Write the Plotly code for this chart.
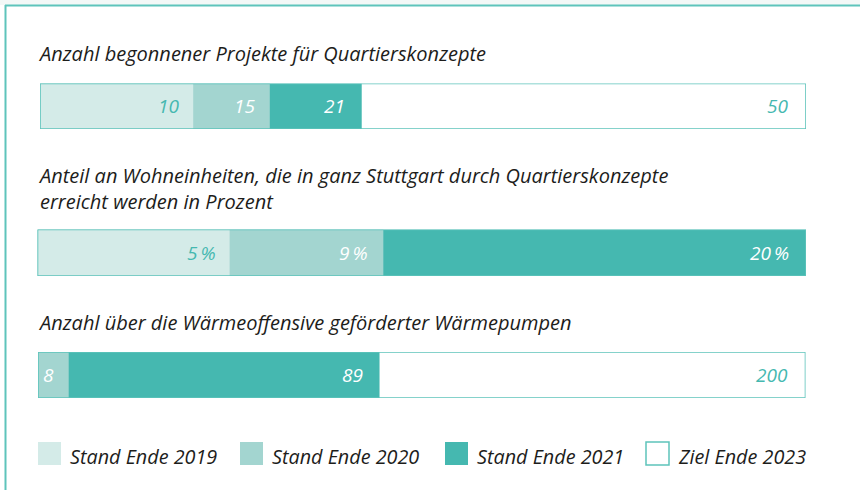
import plotly.graph_objects as go

# ---------------- data ----------------
titles = [
    "Anzahl begonnener Projekte für Quartierskonzepte",
    "Anteil an Wohneinheiten, die in ganz Stuttgart durch Quartierskonzepte<br>erreicht werden in Prozent",
    "Anzahl über die Wärmeoffensive geförderter Wärmepumpen",
]
series_names = ["Stand Ende 2019", "Stand Ende 2020", "Stand Ende 2021", "Ziel Ende 2023"]
stand_2019 = [10, 5, None]
stand_2020 = [15, 9, 8]
stand_2021 = [21, 20, 89]
ziel_2023 = [50, None, 200]
scale_max = [50, 20, 200]
value_suffix = ["", "\u2009%", ""]

# ---------------- style ----------------
W, H = 860, 490
C19, C20, C21 = "#d4ebe8", "#a3d5d0", "#45b8b0"
OUTLINE = "#5ec4bb"
TXT = "#1d1d1b"
FONT = "Open Sans"
FS_TITLE = 20
FS_LABEL = 19
FS_LEG = 19.8

# pixel boxes of each bar row (left, right, top, bottom)
row_boxes = [(40, 806, 83.5, 129), (37.5, 806, 229.5, 276), (38, 805.5, 352, 398)]
title_y = [54, 188.5, 322]


def fx(p):
    return p / W


def fy(p):
    return 1 - p / H


fig = go.Figure()
annotations = []
shapes = []

series = [stand_2021, stand_2020, stand_2019]
colors = [C21, C20, C19]
label_colors = ["white", "white", C21]
label_shift = [-15, -13, -12]

for i in range(3):
    sfx = "" if i == 0 else str(i + 1)
    xa, ya = "x" + sfx, "y" + sfx
    for vals, col, lc, sh in zip(series, colors, label_colors, label_shift):
        v = vals[i]
        if v is None:
            continue
        fig.add_trace(go.Bar(
            x=[v], y=[0], orientation="h", width=1,
            marker=dict(color=col, line=dict(width=0)),
            xaxis=xa, yaxis=ya, hoverinfo="skip",
        ))
        annotations.append(dict(
            x=v, y=0, xref=xa, yref=ya, xanchor="right", yanchor="middle",
            xshift=sh, showarrow=False, text=f"{v}{value_suffix[i]}",
            font=dict(family=FONT, size=FS_LABEL, color=lc, style="italic"),
        ))
    # outline / target bar
    fig.add_trace(go.Bar(
        x=[scale_max[i]], y=[0], orientation="h", width=1,
        marker=dict(color="rgba(0,0,0,0)", line=dict(width=1.6, color=OUTLINE)),
        xaxis=xa, yaxis=ya, hoverinfo="skip",
    ))
    if ziel_2023[i] is not None:
        annotations.append(dict(
            x=ziel_2023[i], y=0, xref=xa, yref=ya, xanchor="right", yanchor="middle",
            xshift=-16, showarrow=False, text=f"{ziel_2023[i]}{value_suffix[i]}",
            font=dict(family=FONT, size=FS_LABEL, color=C21, style="italic"),
        ))
    l, r, t, b = row_boxes[i]
    fig.update_layout(**{
        ("xaxis" + sfx): dict(domain=[fx(l), fx(r)], range=[0, scale_max[i]], visible=False,
                               anchor=ya, fixedrange=True),
        ("yaxis" + sfx): dict(domain=[fy(b), fy(t)], range=[-0.5, 0.5], visible=False,
                               anchor=xa, fixedrange=True),
    })

# titles
for t, yy in zip(titles, title_y):
    annotations.append(dict(
        x=fx(36), y=fy(yy), xref="paper", yref="paper", xanchor="left", yanchor="middle",
        align="left", showarrow=False, text=t,
        font=dict(family=FONT, size=FS_TITLE, color=TXT, style="italic"),
    ))

# legend
leg_x = [38, 240, 445, 646]
leg_fill = [C19, C20, C21, "white"]
for name, lx, col in zip(series_names, leg_x, leg_fill):
    shapes.append(dict(
        type="rect", xref="paper", yref="paper",
        x0=fx(lx), x1=fx(lx + 23), y0=fy(465), y1=fy(442),
        fillcolor=col, line=dict(width=1.5 if col == "white" else 0, color=OUTLINE),
    ))
    annotations.append(dict(
        x=fx(lx + 30), y=fy(456), xref="paper", yref="paper", xanchor="left", yanchor="middle",
        showarrow=False, text=name,
        font=dict(family=FONT, size=FS_LEG, color=TXT, style="italic"),
    ))

# frame
shapes.append(dict(type="rect", xref="paper", yref="paper", x0=0, x1=1, y0=fy(5), y1=1,
                   fillcolor="#f3f8f7", line=dict(width=0), layer="below"))
shapes.append(dict(type="line", xref="paper", yref="paper", x0=fx(5), x1=1, y0=fy(5.5), y1=fy(5.5),
                   line=dict(width=2, color=OUTLINE)))
shapes.append(dict(type="line", xref="paper", yref="paper", x0=fx(5.5), x1=fx(5.5), y0=0, y1=fy(5),
                   line=dict(width=2, color=OUTLINE)))

fig.update_layout(
    width=W, height=H, margin=dict(l=0, r=0, t=0, b=0),
    barmode="overlay", showlegend=False,
    paper_bgcolor="white", plot_bgcolor="rgba(0,0,0,0)",
    annotations=annotations, shapes=shapes,
)

fig.write_html("out.html", config={"displayModeBar": False},
               post_script="document.body.style.margin='0px';document.body.style.padding='0px';")
